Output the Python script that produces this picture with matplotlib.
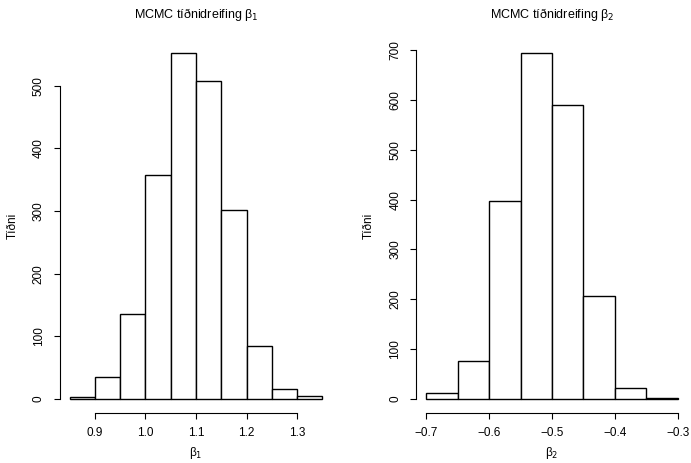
import numpy as np
import matplotlib.pyplot as plt

plt.rcParams['font.family'] = ['Liberation Sans', 'DejaVu Sans']

# Gögn lesin af myndinni: bil og tíðni
brot_b1 = [0.85, 0.90, 0.95, 1.00, 1.05, 1.10, 1.15, 1.20, 1.25, 1.30, 1.35]
tidni_b1 = [3, 35, 136, 358, 553, 508, 301, 85, 16, 5]
brot_b2 = [-0.70, -0.65, -0.60, -0.55, -0.50, -0.45, -0.40, -0.35, -0.30]
tidni_b2 = [12, 77, 397, 695, 590, 207, 22, 2]

xticks_b1 = [0.9, 1.0, 1.1, 1.2, 1.3]
xtick_labels_b1 = ['0.9', '1.0', '1.1', '1.2', '1.3']
yticks_b1 = [0, 100, 200, 300, 400, 500]
xticks_b2 = [-0.7, -0.6, -0.5, -0.4, -0.3]
xtick_labels_b2 = ['\u22120.7', '\u22120.6', '\u22120.5', '\u22120.4', '\u22120.3']
yticks_b2 = [0, 100, 200, 300, 400, 500, 600, 700]

W, H = 691, 463
fig = plt.figure(figsize=(W / 100, H / 100), dpi=100)
top, bottom = 38.7, 412.9
ax1 = fig.add_axes([59.5 / W, (H - bottom) / H, 273 / W, (bottom - top) / H])
ax2 = fig.add_axes([416 / W, (H - bottom) / H, 272 / W, (bottom - top) / H])


def teikna(ax, brot, tidni, xt, xtl, yt, titill, xlab):
    brot = np.array(brot)
    ax.bar(brot[:-1], tidni, width=np.diff(brot), align='edge',
           facecolor='white', edgecolor='black', linewidth=1.0)
    # R stillir ás með 4% viðbót
    x0, x1 = brot[0], brot[-1]
    dx = (x1 - x0) * 0.04
    ax.set_xlim(x0 - dx, x1 + dx)
    ymax = max(tidni)
    ax.set_ylim(-ymax * 0.04, ymax * 1.04)
    for s in ['top', 'right']:
        ax.spines[s].set_visible(False)
    ax.spines['bottom'].set_bounds(xt[0], xt[-1])
    ax.spines['left'].set_bounds(yt[0], yt[-1])
    ax.spines['bottom'].set_linewidth(0.8)
    ax.spines['left'].set_linewidth(0.8)
    ax.set_xticks(xt)
    ax.set_xticklabels(xtl)
    ax.set_yticks(yt)
    ax.set_yticklabels([str(v) for v in yt], rotation=90, va='center')
    ax.tick_params(length=4, width=0.8, labelsize=8.5, pad=6.5)
    ax.set_title(titill, fontsize=9, pad=15)
    ax.set_xlabel(xlab, fontsize=8.5, va='center')
    ax.xaxis.set_label_coords(0.5, -0.108)
    ax.set_ylabel('Tíðni', fontsize=8.5, va='center')
    ax.yaxis.set_label_coords(-0.172, 0.5)


teikna(ax1, brot_b1, tidni_b1, xticks_b1, xtick_labels_b1, yticks_b1,
       'MCMC tíðnidreifing β$_1$', 'β$_1$')
teikna(ax2, brot_b2, tidni_b2, xticks_b2, xtick_labels_b2, yticks_b2,
       'MCMC tíðnidreifing β$_2$', 'β$_2$')

fig.savefig('out.png', dpi=100)
